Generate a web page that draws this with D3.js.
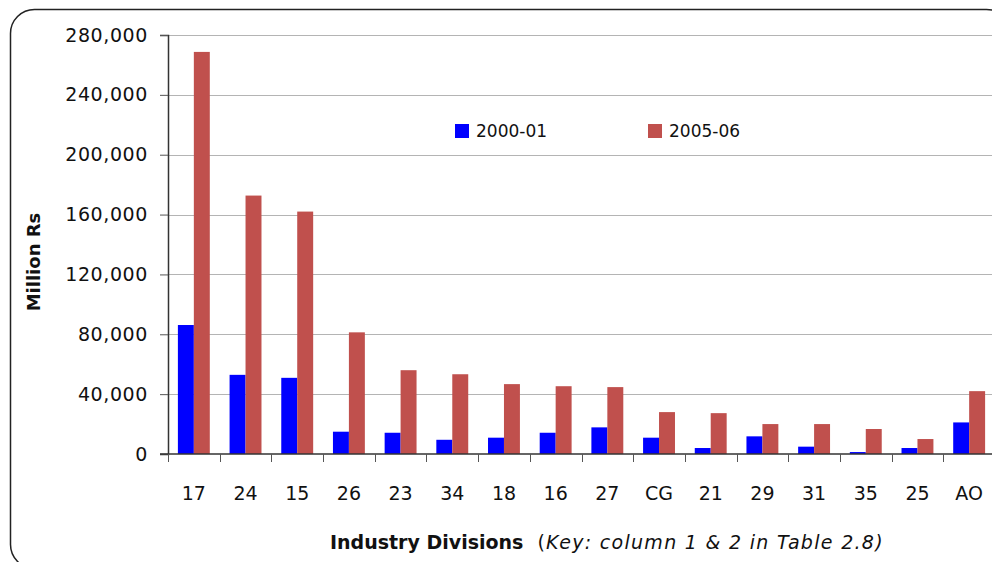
<!DOCTYPE html>
<html>
<head>
<meta charset="utf-8">
<script src="https://cdn.jsdelivr.net/npm/d3@7"></script>
<style>
  body { margin: 0; background: #fff; }
  svg { display: block; font-family: "DejaVu Sans", sans-serif; }
</style>
</head>
<body>
<div id="chart"></div>
<script>
// categories (industry divisions)
var divisions = ["17", "24", "15", "26", "23", "34", "18", "16", "27", "CG", "21", "29", "31", "35", "25", "AO"];
// series names
var seriesNames = ["2000-01", "2005-06"];
// values, million Rs
var values2000 = [86200, 52900, 50900, 14900, 14200, 9500, 10900, 14200, 17800, 10900, 4000, 11800, 4900, 1300, 4000, 21100];
var values2005 = [268700, 172700, 162000, 81300, 56000, 53300, 46700, 45300, 44700, 28000, 27300, 20000, 20000, 16700, 10000, 42000];
// y ticks
var yTicks = [0, 40000, 80000, 120000, 160000, 200000, 240000, 280000];

var width = 992;
var height = 562;
var colors = ["#0000ff", "#c0504d"];

var svg = d3.select("#chart")
  .append("svg")
  .attr("width", width)
  .attr("height", height);

// cadre arrondi
svg.append("rect")
  .attr("x", 10.5)
  .attr("y", 9.5)
  .attr("width", 1000)
  .attr("height", 559)
  .attr("rx", 24)
  .attr("fill", "none")
  .attr("stroke", "#222")
  .attr("stroke-width", 1.5);

var plotLeft = 168, plotRight = 995, plotTop = 35, plotBottom = 454;

var x0 = d3.scaleBand()
  .domain(divisions)
  .range([plotLeft, plotRight])
  .padding(0);

var x1 = d3.scaleBand()
  .domain(seriesNames)
  .range([0, x0.bandwidth()])
  .paddingInner(0)
  .paddingOuter(0.62);

var y = d3.scaleLinear()
  .domain([0, 280000])
  .range([plotBottom, plotTop]);

// grille
svg.append("g")
  .selectAll("line")
  .data(yTicks.slice(1))
  .enter()
  .append("line")
  .attr("x1", plotLeft)
  .attr("x2", plotRight)
  .attr("y1", function (d) { return Math.round(y(d)) + 0.5; })
  .attr("y2", function (d) { return Math.round(y(d)) + 0.5; })
  .attr("stroke", "#b4b4b4")
  .attr("stroke-width", 1.2);

// barres
var rows = divisions.map(function (d, i) {
  return { division: d, vals: [values2000[i], values2005[i]] };
});

var groups = svg.append("g")
  .selectAll("g")
  .data(rows)
  .enter()
  .append("g")
  .attr("transform", function (d) { return "translate(" + x0(d.division) + ",0)"; });

groups.selectAll("rect")
  .data(function (d) {
    return d.vals.map(function (v, k) { return { key: seriesNames[k], value: v, k: k }; });
  })
  .enter()
  .append("rect")
  .attr("x", function (d) { return x1(d.key); })
  .attr("width", x1.bandwidth())
  .attr("y", function (d) { return y(d.value); })
  .attr("height", function (d) { return plotBottom - y(d.value); })
  .attr("fill", function (d) { return colors[d.k]; });

// axe Y
var yAxis = svg.append("g")
  .attr("transform", "translate(" + plotLeft + ",0)")
  .call(d3.axisLeft(y)
    .tickValues(yTicks)
    .tickSize(8)
    .tickPadding(12)
    .tickFormat(d3.format(",")));
yAxis.select(".domain").attr("stroke", "#333").attr("stroke-width", 1.5);
yAxis.selectAll(".tick line").attr("stroke", "#555");
yAxis.selectAll("text")
  .attr("font-size", 19)
  .attr("letter-spacing", 0.6)
  .attr("fill", "#111")
  .attr("font-family", "DejaVu Sans");

// axe X
var xg = svg.append("g").attr("transform", "translate(0," + plotBottom + ")");
xg.append("line")
  .attr("x1", plotLeft - 8)
  .attr("x2", plotRight)
  .attr("stroke", "#333")
  .attr("stroke-width", 1.5);
xg.selectAll(".xtick")
  .data(divisions)
  .enter()
  .append("line")
  .attr("x1", function (d) { return Math.round(x0(d)) + 0.5; })
  .attr("x2", function (d) { return Math.round(x0(d)) + 0.5; })
  .attr("y1", 0)
  .attr("y2", 8)
  .attr("stroke", "#555");
xg.selectAll(".xlabel")
  .data(divisions)
  .enter()
  .append("text")
  .attr("x", function (d) { return x0(d) + x0.bandwidth() / 2; })
  .attr("y", 46)
  .attr("text-anchor", "middle")
  .attr("font-size", 19)
  .attr("fill", "#111")
  .text(function (d) { return d; });

// titres des axes
svg.append("text")
  .attr("transform", "translate(40,262) rotate(-90)")
  .attr("text-anchor", "middle")
  .attr("font-size", 18)
  .attr("font-weight", "bold")
  .attr("fill", "#111")
  .text("Million Rs");

var xt = svg.append("text")
  .attr("x", 330)
  .attr("y", 549)
  .attr("font-size", 19)
  .attr("fill", "#111");
xt.append("tspan").attr("font-weight", "bold").text("Industry Divisions");
xt.append("tspan").attr("dx", 14).attr("letter-spacing", 1.3).text("(");
xt.append("tspan").attr("font-style", "italic").attr("letter-spacing", 1.3).text("Key: column 1 & 2 in Table 2.8)");

// légende
var legend = svg.append("g")
  .selectAll("g")
  .data(seriesNames)
  .enter()
  .append("g")
  .attr("transform", function (d, i) { return "translate(" + (455 + i * 193) + ",124)"; });
legend.append("rect")
  .attr("width", 14)
  .attr("height", 14)
  .attr("fill", function (d, i) { return colors[i]; });
legend.append("text")
  .attr("x", 21)
  .attr("y", 13)
  .attr("font-size", 17)
  .attr("fill", "#111")
  .text(function (d) { return d; });
</script>
</body>
</html>
